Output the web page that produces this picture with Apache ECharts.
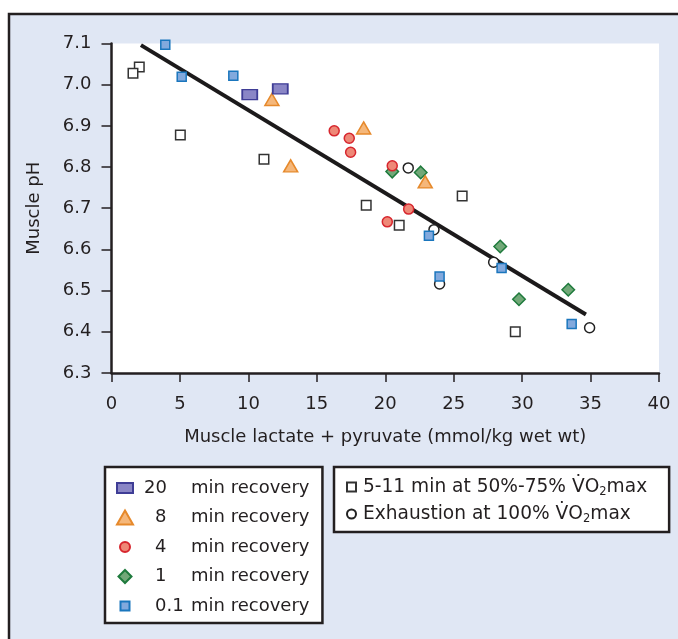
<!DOCTYPE html>
<html>
<head>
    <meta charset="utf-8">
    <script src="https://cdn.jsdelivr.net/npm/echarts@6/dist/echarts.min.js"></script>
</head>
<body style="margin:0;background:#fff">
    <div id="main" style="width:678px;height:639px;"></div>
    <script type="text/javascript">
        // [lactate+pyruvate, pH]
        var rec20 = [[10.1, 6.976], [12.33, 6.990]];
        var rec8 = [[11.72, 6.964], [13.09, 6.803], [18.42, 6.895], [22.92, 6.764]];
        var rec4 = [[16.27, 6.888], [17.37, 6.870], [17.47, 6.836], [20.51, 6.803], [21.71, 6.698], [20.15, 6.667]];
        var rec1 = [[20.51, 6.789], [22.59, 6.787], [28.40, 6.607], [29.77, 6.479], [33.37, 6.502]];
        var rec01 = [[3.93, 7.097], [5.13, 7.019], [8.90, 7.022], [23.19, 6.633], [23.97, 6.534], [28.50, 6.555], [33.62, 6.419]];
        var submax = [[2.03, 7.043], [1.57, 7.028], [5.03, 6.878], [11.14, 6.819], [18.61, 6.707], [21.02, 6.659], [25.62, 6.730], [29.50, 6.400]];
        var exhaust = [[21.68, 6.798], [23.56, 6.648], [23.97, 6.516], [27.92, 6.569], [34.93, 6.410]];
        var fitLine = [[2.15, 7.096], [34.66, 6.442]];

        var xTicks = { min: 0, max: 40, step: 5 };
        var yTicks = { min: 6.3, max: 7.1, step: 0.1 };

        var recNames = ['20 min recovery', '8 min recovery', '4 min recovery', '1 min recovery', '0.1 min recovery'];
        var otherNames = ['5-11 min at 50%-75% V\u0307O\u2082max', 'Exhaustion at 100% V\u0307O\u2082max'];

        var ink = '#231f20';
        var font = 'DejaVu Sans';

        var myChart = echarts.init(document.getElementById('main'));

        var option = {
            animation: false,
            backgroundColor: '#fff',
            graphic: [{
                type: 'rect',
                z: -10,
                shape: { x: 9, y: 14, width: 700, height: 700 },
                style: { fill: '#e0e7f4', stroke: ink, lineWidth: 2.5 }
            }],
            grid: {
                left: 111.5, right: 19, top: 43.5, bottom: 266,
                show: true, backgroundColor: '#fff', borderWidth: 0
            },
            xAxis: {
                type: 'value',
                min: xTicks.min, max: xTicks.max, interval: xTicks.step,
                name: 'Muscle lactate + pyruvate (mmol/kg wet wt)',
                nameLocation: 'middle',
                nameGap: 55,
                nameTextStyle: { fontFamily: font, fontSize: 18, color: ink },
                axisLine: { lineStyle: { color: ink, width: 2.5 } },
                axisTick: { length: 9, lineStyle: { color: ink, width: 1.5 } },
                axisLabel: { margin: 22, fontFamily: font, fontSize: 18, color: ink },
                splitLine: { show: false }
            },
            yAxis: {
                type: 'value',
                min: yTicks.min, max: yTicks.max, interval: yTicks.step,
                name: 'Muscle pH',
                nameLocation: 'middle',
                nameGap: 68,
                nameTextStyle: { fontFamily: font, fontSize: 18, color: ink },
                axisLine: { show: true, lineStyle: { color: ink, width: 2.5 } },
                axisTick: { show: true, length: 10, lineStyle: { color: ink, width: 1.5 } },
                axisLabel: {
                    margin: 20, fontFamily: font, fontSize: 18, color: ink,
                    formatter: function (v) { return v.toFixed(1); }
                },
                splitLine: { show: false }
            },
            legend: [{
                orient: 'vertical',
                left: 105, top: 467,
                padding: [10, 13, 6, 11],
                itemGap: 7.5,
                itemWidth: 16, itemHeight: 14,
                borderColor: ink, borderWidth: 2.5,
                backgroundColor: '#fff',
                selectedMode: false,
                data: [
                    { name: recNames[0], icon: 'path://M0,2H16V12H0Z' },
                    { name: recNames[1], icon: 'triangle' },
                    { name: recNames[2], icon: 'path://M0,0M16,14M3,7A5,5,0,1,1,13,7A5,5,0,1,1,3,7Z' },
                    { name: recNames[3], icon: 'path://M0,0M16,14M8,0.5L14.5,7L8,13.5L1.5,7Z' },
                    { name: recNames[4], icon: 'path://M0,0M16,14M3.5,2.5H12.5V11.5H3.5Z' }
                ],
                formatter: function (name) {
                    var n = name.split(' ')[0];
                    return '{' + (n === '20' ? 'a' : 'b') + '|' + n + '}{c|min recovery}';
                },
                textStyle: {
                    fontFamily: font, fontSize: 18, color: ink, lineHeight: 22,
                    rich: {
                        a: { fontFamily: font, fontSize: 18, color: ink, lineHeight: 22, width: 47, padding: [0, 0, 0, 6] },
                        b: { fontFamily: font, fontSize: 18, color: ink, lineHeight: 22, width: 36, padding: [0, 0, 0, 17] },
                        c: { fontFamily: font, fontSize: 18, color: ink, lineHeight: 22 }
                    }
                }
            }, {
                orient: 'vertical',
                left: 334, top: 467,
                padding: [9, 22, 7, 12],
                itemGap: 5,
                itemWidth: 9, itemHeight: 9,
                borderColor: ink, borderWidth: 2.5,
                backgroundColor: '#fff',
                selectedMode: false,
                data: [
                    { name: otherNames[0], icon: 'rect' },
                    { name: otherNames[1], icon: 'circle' }
                ],
                formatter: function (name) {
                    var parts = name.split('\u2082');
                    return '{t|' + parts[0] + '}{s|2}{u|' + parts[1] + '}';
                },
                textStyle: {
                    fontFamily: font, fontSize: 18.6, color: ink, lineHeight: 22,
                    rich: {
                        t: { fontFamily: font, fontSize: 18.6, color: ink, lineHeight: 22, padding: [0, 0, 0, 2] },
                        s: { fontFamily: font, fontSize: 11.5, color: ink, lineHeight: 12, verticalAlign: 'bottom' },
                        u: { fontFamily: font, fontSize: 18.6, color: ink, lineHeight: 22 }
                    }
                }
            }],
            series: [{
                name: 'fit',
                type: 'line',
                data: fitLine,
                symbol: 'none',
                z: 1,
                lineStyle: { color: '#1c1a1b', width: 4 }
            }, {
                name: otherNames[1],
                type: 'scatter',
                data: exhaust,
                symbol: 'circle', symbolSize: 10, z: 2,
                itemStyle: { color: '#fff', borderColor: '#222', borderWidth: 1.5, opacity: 1 }
            }, {
                name: otherNames[0],
                type: 'scatter',
                data: submax,
                symbol: 'rect', symbolSize: 9.5, z: 2,
                itemStyle: { color: '#fff', borderColor: '#333', borderWidth: 1.5, opacity: 1 }
            }, {
                name: recNames[3],
                type: 'scatter',
                data: rec1,
                symbol: 'diamond', symbolSize: 12.5, z: 2,
                itemStyle: { color: '#72a878', borderColor: '#1e7a3c', borderWidth: 1.5, opacity: 1 }
            }, {
                name: recNames[2],
                type: 'scatter',
                data: rec4,
                symbol: 'circle', symbolSize: 10, z: 2,
                itemStyle: { color: '#ee8877', borderColor: '#d7262e', borderWidth: 1.5, opacity: 1 }
            }, {
                name: recNames[1],
                type: 'scatter',
                data: rec8,
                symbol: 'triangle', symbolSize: [14, 12], z: 2,
                itemStyle: { color: '#f5b77a', borderColor: '#e6892b', borderWidth: 1.5, opacity: 1 }
            }, {
                name: recNames[0],
                type: 'scatter',
                data: rec20,
                symbol: 'rect', symbolSize: [15, 10], z: 2,
                itemStyle: { color: '#8a86c6', borderColor: '#3f3d96', borderWidth: 1.5, opacity: 1 }
            }, {
                name: recNames[4],
                type: 'scatter',
                data: rec01,
                symbol: 'rect', symbolSize: 9, z: 2,
                itemStyle: { color: '#82a9dd', borderColor: '#1a76bd', borderWidth: 1.5, opacity: 1 }
            }]
        };

        myChart.setOption(option);
    </script>
</body>
</html>
